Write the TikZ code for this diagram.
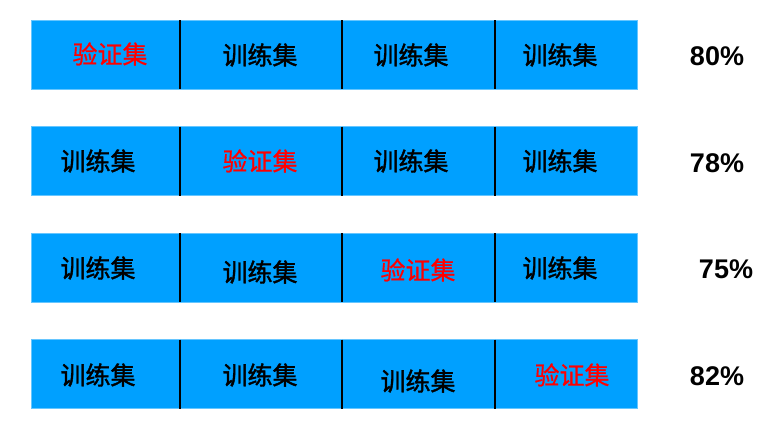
\documentclass[tikz,border=0pt]{standalone}
\usepackage{fontspec}
\setmainfont{Liberation Sans}
\newfontfamily\cjkr[FakeBold=0.6]{Noto Sans CJK SC}
\newfontfamily\cjkm[FakeBold=1.6]{Noto Sans CJK SC}
\definecolor{barblue}{RGB}{0,160,255}
\definecolor{valred}{RGB}{255,0,0}
\begin{document}
\begin{tikzpicture}[x=1pt,y=-1pt,
  bar/.style={fill=barblue,draw=barblue!60!white,line width=0.6pt},
  divider/.style={line width=2pt,black},
  train/.style={font=\cjkm\fontsize{25}{25}\selectfont,text=black,inner sep=0pt},
  val/.style={font=\cjkr\fontsize{25}{25}\selectfont,text=valred,inner sep=0pt},
  pct/.style={font=\bfseries\fontsize{27}{27}\selectfont,text=black,inner sep=0pt}]
\useasboundingbox (0,0) rectangle (770,426);
\foreach \t in {20,126.5,233,339.5}{
  \draw[bar] (31,\t) rectangle (637,\t+69);
  \foreach \x in {180,342,495}{
    \draw[divider] (\x,\t) -- (\x,\t+69);
  }
}
% row 1
\node[val]   (r1a) at (110,54) {验证集};
\node[train] (r1b) at (260,55) {训练集};
\node[train] (r1c) at (411,55) {训练集};
\node[train] (r1d) at (560,55) {训练集};
\node[pct]   (r1p) at (717,56) {80\%};
% row 2
\node[train] (r2a) at (98,161) {训练集};
\node[val]   (r2b) at (260,161) {验证集};
\node[train] (r2c) at (411,161) {训练集};
\node[train] (r2d) at (560,161) {训练集};
\node[pct]   (r2p) at (717,163) {78\%};
% row 3
\node[train] (r3a) at (98,268) {训练集};
\node[train] (r3b) at (260,272) {训练集};
\node[val]   (r3c) at (418,270) {验证集};
\node[train] (r3d) at (560,268) {训练集};
\node[pct]   (r3p) at (726,269) {75\%};
% row 4
\node[train] (r4a) at (98,375) {训练集};
\node[train] (r4b) at (260,375) {训练集};
\node[train] (r4c) at (418,381) {训练集};
\node[val]   (r4d) at (572,375) {验证集};
\node[pct]   (r4p) at (717,376) {82\%};
\end{tikzpicture}
\end{document}
